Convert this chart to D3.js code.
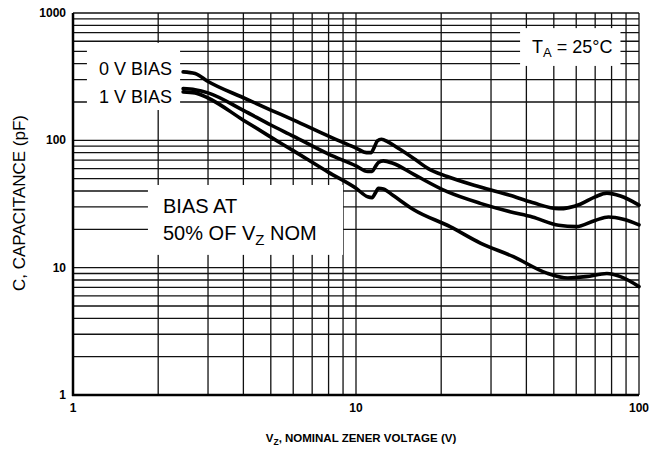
<!DOCTYPE html>
<html>
<head>
<meta charset="utf-8">
<script src="https://cdn.jsdelivr.net/npm/d3@7"></script>
<style>
  body { margin: 0; background: #fff; }
  text { font-family: "Liberation Sans", Arial, Helvetica, sans-serif; fill: #000; }
</style>
</head>
<body>
<div id="chart"></div>
<script>
// Capacitance vs nominal zener voltage
const vz0V  = [2.45, 2.7, 3.0, 4.0, 5.0, 6.0, 8.0, 10.0, 10.9, 11.3, 11.6, 11.9, 12.3, 13.0, 14.3, 16.0, 18.0, 21.0, 27.5, 35.0, 42.0, 52.0, 62.0, 70.0, 77.0, 86.0, 100];
const cap0V = [345, 335, 290, 216, 173, 145, 108, 87, 80, 80, 88, 99, 102, 97, 85, 72, 60, 52, 43, 37, 32.5, 29, 31.5, 36, 38.5, 36.5, 31];

const vz1V  = [2.45, 2.7, 3.0, 4.0, 5.0, 6.0, 8.0, 10.0, 11.0, 11.4, 11.7, 12.0, 12.5, 13.5, 16.0, 21.0, 27.5, 35.0, 42.0, 52.0, 60.0, 70.0, 78.0, 88.0, 100];
const cap1V = [255, 250, 236, 172, 132, 108, 78, 63, 57, 57, 62, 67, 69, 66, 54, 39.5, 32, 27.5, 25, 21.5, 21, 23.5, 25, 24, 21.7];

const vz50  = [2.45, 2.7, 3.0, 4.0, 5.0, 6.0, 8.0, 10.0, 11.0, 11.4, 11.7, 12.0, 12.5, 13.5, 16.0, 21.5, 27.5, 36.0, 47.0, 56.0, 65.0, 77.0, 86.0, 100];
const cap50 = [240, 236, 215, 144, 106, 83, 56, 42, 36, 35.5, 38.5, 42, 41.5, 37, 28.5, 21, 15.6, 12.2, 9.1, 8.3, 8.5, 9.0, 8.5, 7.1];

const xTicks = [1, 10, 100];
const yTicks = [1, 10, 100, 1000];
const xGrid = [1, 2, 3, 4, 5, 6, 7, 8, 9, 10, 20, 30, 40, 50, 60, 70, 80, 90, 100];
const yGrid = [1, 2, 3, 4, 5, 6, 7, 8, 9, 10, 20, 30, 40, 50, 60, 70, 80, 90, 100,
               200, 300, 400, 500, 600, 700, 800, 900, 1000];

const W = 649, H = 451;
const margin = {top: 13, right: 10, bottom: 56, left: 73};

const svg = d3.select("#chart").append("svg")
    .attr("width", W)
    .attr("height", H);

const x = d3.scaleLog().domain([1, 100]).range([margin.left, W - margin.right]);
const y = d3.scaleLog().domain([1, 1000]).range([H - margin.bottom, margin.top]);

// grid
svg.append("g").selectAll("line.vg")
    .data(xGrid).enter().append("line")
    .attr("class", "vg")
    .attr("x1", d => x(d)).attr("x2", d => x(d))
    .attr("y1", y(1)).attr("y2", y(1000))
    .attr("stroke", "#111").attr("stroke-width", 1.3);

svg.append("g").selectAll("line.hg")
    .data(yGrid).enter().append("line")
    .attr("class", "hg")
    .attr("y1", d => y(d)).attr("y2", d => y(d))
    .attr("x1", x(1)).attr("x2", x(100))
    .attr("stroke", "#111").attr("stroke-width", 1.3);

// heavier left and bottom frame
svg.append("line")
    .attr("x1", x(1)).attr("x2", x(1)).attr("y1", y(1000)).attr("y2", y(1) + 1)
    .attr("stroke", "#000").attr("stroke-width", 2.5);
svg.append("line")
    .attr("x1", x(1) - 1).attr("x2", x(100)).attr("y1", y(1)).attr("y2", y(1))
    .attr("stroke", "#000").attr("stroke-width", 2.5);

// tick labels
svg.selectAll(".xlab")
    .data(xTicks).enter().append("text")
    .attr("class", "xlab")
    .attr("x", d => x(d))
    .attr("y", y(1) + 17)
    .attr("text-anchor", "middle")
    .attr("font-size", 12)
    .attr("font-weight", "bold")
    .text(d => d);

svg.selectAll(".ylab")
    .data(yTicks).enter().append("text")
    .attr("class", "ylab")
    .attr("x", x(1) - 7)
    .attr("y", d => y(d) + 4)
    .attr("text-anchor", "end")
    .attr("font-size", 12)
    .attr("font-weight", "bold")
    .text(d => d);

// axis titles
const xt = svg.append("text")
    .attr("x", 361)
    .attr("y", 442)
    .attr("text-anchor", "middle")
    .attr("font-size", 11.5)
    .attr("font-weight", "bold");
xt.append("tspan").text("V");
xt.append("tspan").attr("font-size", 8.5).attr("dy", 3).text("Z");
xt.append("tspan").attr("dy", -3).text(", NOMINAL ZENER VOLTAGE (V)");

svg.append("text")
    .attr("transform", "translate(25,203) rotate(-90)")
    .attr("text-anchor", "middle")
    .attr("font-size", 17)
    .text("C, CAPACITANCE (pF)");

// white boxes behind annotations (corners in data units)
const boxes = [
    {x0: 1.12, x1: 2.39, y0: 583, y1: 173},
    {x0: 38, x1: 86, y0: 761, y1: 384},
    {x0: 1.84, x1: 9.0, y0: 44.6, y1: 12.6}
];
svg.selectAll(".box")
    .data(boxes).enter().append("rect")
    .attr("class", "box")
    .attr("x", d => x(d.x0))
    .attr("y", d => y(d.y0))
    .attr("width", d => x(d.x1) - x(d.x0))
    .attr("height", d => y(d.y1) - y(d.y0))
    .attr("fill", "#fff");

// curves
const line = d3.line()
    .x(d => x(d[0]))
    .y(d => y(d[1]))
    .curve(d3.curveMonotoneX);

const series = [
    d3.zip(vz0V, cap0V),
    d3.zip(vz1V, cap1V),
    d3.zip(vz50, cap50)
];

svg.selectAll(".curve")
    .data(series).enter().append("path")
    .attr("class", "curve")
    .attr("d", line)
    .attr("fill", "none")
    .attr("stroke", "#000")
    .attr("stroke-width", 3.6)
    .attr("stroke-linecap", "round")
    .attr("stroke-linejoin", "round");

// annotations
svg.append("text")
    .attr("x", 99).attr("y", 75)
    .attr("font-size", 18)
    .text("0 V BIAS");
svg.append("text")
    .attr("x", 99).attr("y", 103)
    .attr("font-size", 18)
    .text("1 V BIAS");

const ta = svg.append("text")
    .attr("x", 532).attr("y", 53)
    .attr("font-size", 18);
ta.append("tspan").text("T");
ta.append("tspan").attr("font-size", 13).attr("dy", 4).text("A");
ta.append("tspan").attr("dy", -4).text(" = 25°C");

svg.append("text")
    .attr("x", 163).attr("y", 213)
    .attr("font-size", 20)
    .text("BIAS AT");
const b2 = svg.append("text")
    .attr("x", 163).attr("y", 240)
    .attr("font-size", 20);
b2.append("tspan").text("50% OF V");
b2.append("tspan").attr("font-size", 15).attr("dy", 5).text("Z");
b2.append("tspan").attr("dy", -5).text(" NOM");
</script>
</body>
</html>
